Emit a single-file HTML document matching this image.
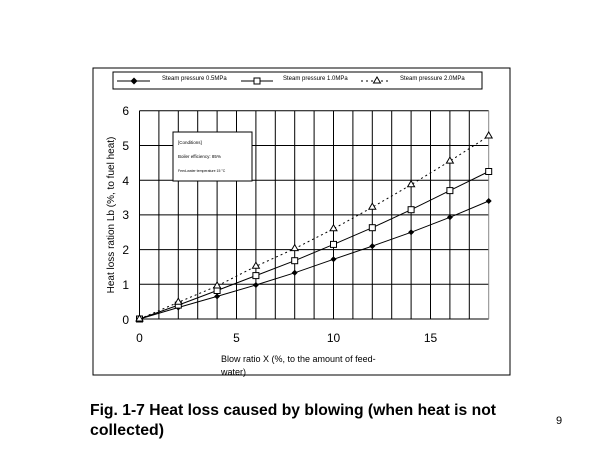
<!DOCTYPE html>
<html><head><style>body{margin:0;background:#fff}svg{display:block}</style></head>
<body>
<svg width="600" height="450" xmlns="http://www.w3.org/2000/svg" font-family="Liberation Sans, Arial, sans-serif">
<rect x="93" y="68" width="417" height="307" fill="none" stroke="#000" stroke-width="1"/>
<rect x="113" y="72" width="369" height="17" fill="none" stroke="#000" stroke-width="1"/>
<line x1="117" y1="81" x2="150" y2="81" stroke="#000"/>
<path d="M134 77.5 L137.5 81 L134 84.5 L130.5 81Z" fill="#000"/>
<text x="162" y="80" font-size="6">Steam pressure 0.5MPa</text>
<line x1="241" y1="81" x2="273" y2="81" stroke="#000"/>
<rect x="254" y="78" width="6" height="6" fill="#fff" stroke="#000"/>
<text x="283" y="80" font-size="6">Steam pressure 1.0MPa</text>
<line x1="361" y1="81" x2="391" y2="81" stroke="#000" stroke-dasharray="2,3"/>
<path d="M377 77 L380.5 83 L373.5 83Z" fill="#fff" stroke="#000"/>
<text x="400" y="80" font-size="6">Steam pressure 2.0MPa</text>
<g stroke="#000" stroke-width="1">
<line x1="139.5" y1="110.8" x2="139.5" y2="319"/><line x1="158.9" y1="110.8" x2="158.9" y2="319"/><line x1="178.3" y1="110.8" x2="178.3" y2="319"/><line x1="197.7" y1="110.8" x2="197.7" y2="319"/><line x1="217.1" y1="110.8" x2="217.1" y2="319"/><line x1="236.5" y1="110.8" x2="236.5" y2="319"/><line x1="255.9" y1="110.8" x2="255.9" y2="319"/><line x1="275.3" y1="110.8" x2="275.3" y2="319"/><line x1="294.7" y1="110.8" x2="294.7" y2="319"/><line x1="314.1" y1="110.8" x2="314.1" y2="319"/><line x1="333.5" y1="110.8" x2="333.5" y2="319"/><line x1="352.9" y1="110.8" x2="352.9" y2="319"/><line x1="372.3" y1="110.8" x2="372.3" y2="319"/><line x1="391.7" y1="110.8" x2="391.7" y2="319"/><line x1="411.1" y1="110.8" x2="411.1" y2="319"/><line x1="430.5" y1="110.8" x2="430.5" y2="319"/><line x1="449.9" y1="110.8" x2="449.9" y2="319"/><line x1="469.3" y1="110.8" x2="469.3" y2="319"/>
<line x1="139.5" y1="110.8" x2="488.7" y2="110.8"/><line x1="139.5" y1="145.5" x2="488.7" y2="145.5"/><line x1="139.5" y1="180.2" x2="488.7" y2="180.2"/><line x1="139.5" y1="214.9" x2="488.7" y2="214.9"/><line x1="139.5" y1="249.6" x2="488.7" y2="249.6"/><line x1="139.5" y1="284.3" x2="488.7" y2="284.3"/><line x1="139.5" y1="319" x2="488.7" y2="319"/>
</g>
<line x1="488.7" y1="110.8" x2="488.7" y2="319" stroke="#888"/>
<rect x="173" y="132" width="79" height="49" fill="#fff" stroke="#000"/>
<text x="178" y="144" font-size="4.5">[Conditions]</text>
<text x="178" y="158" font-size="4.5">Boiler efficiency: 85%</text>
<text x="178" y="172" font-size="3.5">Feed-water temperature 15 °C</text>
<polyline fill="none" stroke="#000" points="139.5,319 178.3,307.5 217.1,296.4 255.9,285 294.7,272.8 333.5,259.3 372.3,246.1 411.1,232.3 449.9,217.3 488.7,201"/>
<polyline fill="none" stroke="#000" points="139.5,319 178.3,305.1 217.1,290.5 255.9,275.6 294.7,260.7 333.5,244.4 372.3,227.7 411.1,209.7 449.9,190.6 488.7,171.5"/>
<polyline fill="none" stroke="#000" stroke-dasharray="2,3" points="139.5,319 178.3,302.3 217.1,286 255.9,266.3 294.7,248.6 333.5,228.8 372.3,207.3 411.1,184.7 449.9,161.1 488.7,136"/>
<g fill="#000">
<path d="M139.5 316 l3 3 l-3 3 l-3 -3Z"/><path d="M178.3 304.5 l3 3 l-3 3 l-3 -3Z"/><path d="M217.1 293.4 l3 3 l-3 3 l-3 -3Z"/><path d="M255.9 282 l3 3 l-3 3 l-3 -3Z"/><path d="M294.7 269.8 l3 3 l-3 3 l-3 -3Z"/><path d="M333.5 256.3 l3 3 l-3 3 l-3 -3Z"/><path d="M372.3 243.1 l3 3 l-3 3 l-3 -3Z"/><path d="M411.1 229.3 l3 3 l-3 3 l-3 -3Z"/><path d="M449.9 214.3 l3 3 l-3 3 l-3 -3Z"/><path d="M488.7 198 l3 3 l-3 3 l-3 -3Z"/>
</g>
<g fill="#fff" stroke="#000">
<rect x="136.5" y="316" width="6" height="6"/><rect x="175.3" y="302.1" width="6" height="6"/><rect x="214.1" y="287.5" width="6" height="6"/><rect x="252.9" y="272.6" width="6" height="6"/><rect x="291.7" y="257.7" width="6" height="6"/><rect x="330.5" y="241.4" width="6" height="6"/><rect x="369.3" y="224.7" width="6" height="6"/><rect x="408.1" y="206.7" width="6" height="6"/><rect x="446.9" y="187.6" width="6" height="6"/><rect x="485.7" y="168.5" width="6" height="6"/>
<path d="M139.5 315 l3.5 6 h-7Z"/><path d="M178.3 298.3 l3.5 6 h-7Z"/><path d="M217.1 282 l3.5 6 h-7Z"/><path d="M255.9 262.3 l3.5 6 h-7Z"/><path d="M294.7 244.6 l3.5 6 h-7Z"/><path d="M333.5 224.8 l3.5 6 h-7Z"/><path d="M372.3 203.3 l3.5 6 h-7Z"/><path d="M411.1 180.7 l3.5 6 h-7Z"/><path d="M449.9 157.1 l3.5 6 h-7Z"/><path d="M488.7 132 l3.5 6 h-7Z"/>
</g>
<g font-size="12" text-anchor="end">
<text x="129" y="115">6</text><text x="129" y="150">5</text><text x="129" y="185">4</text><text x="129" y="219">3</text><text x="129" y="254">2</text><text x="129" y="289">1</text><text x="129" y="324">0</text>
</g>
<g font-size="12" text-anchor="middle">
<text x="139.5" y="342">0</text><text x="236.5" y="342">5</text><text x="333.5" y="342">10</text><text x="430.5" y="342">15</text>
</g>
<text transform="translate(114,215) rotate(-90)" font-size="10" text-anchor="middle">Heat loss ration Lb (%, to fuel heat)</text>
<text x="221" y="362" font-size="9">Blow ratio X (%, to the amount of feed-</text>
<text x="221" y="375" font-size="9">water)</text>
<text x="90" y="415" font-size="16" font-weight="bold" textLength="406" lengthAdjust="spacingAndGlyphs">Fig. 1-7  Heat loss caused by blowing (when heat is not</text>
<text x="90" y="435" font-size="16" font-weight="bold" textLength="74" lengthAdjust="spacingAndGlyphs">collected)</text>
<text x="556" y="424" font-size="11">9</text>
</svg>
</body></html>
